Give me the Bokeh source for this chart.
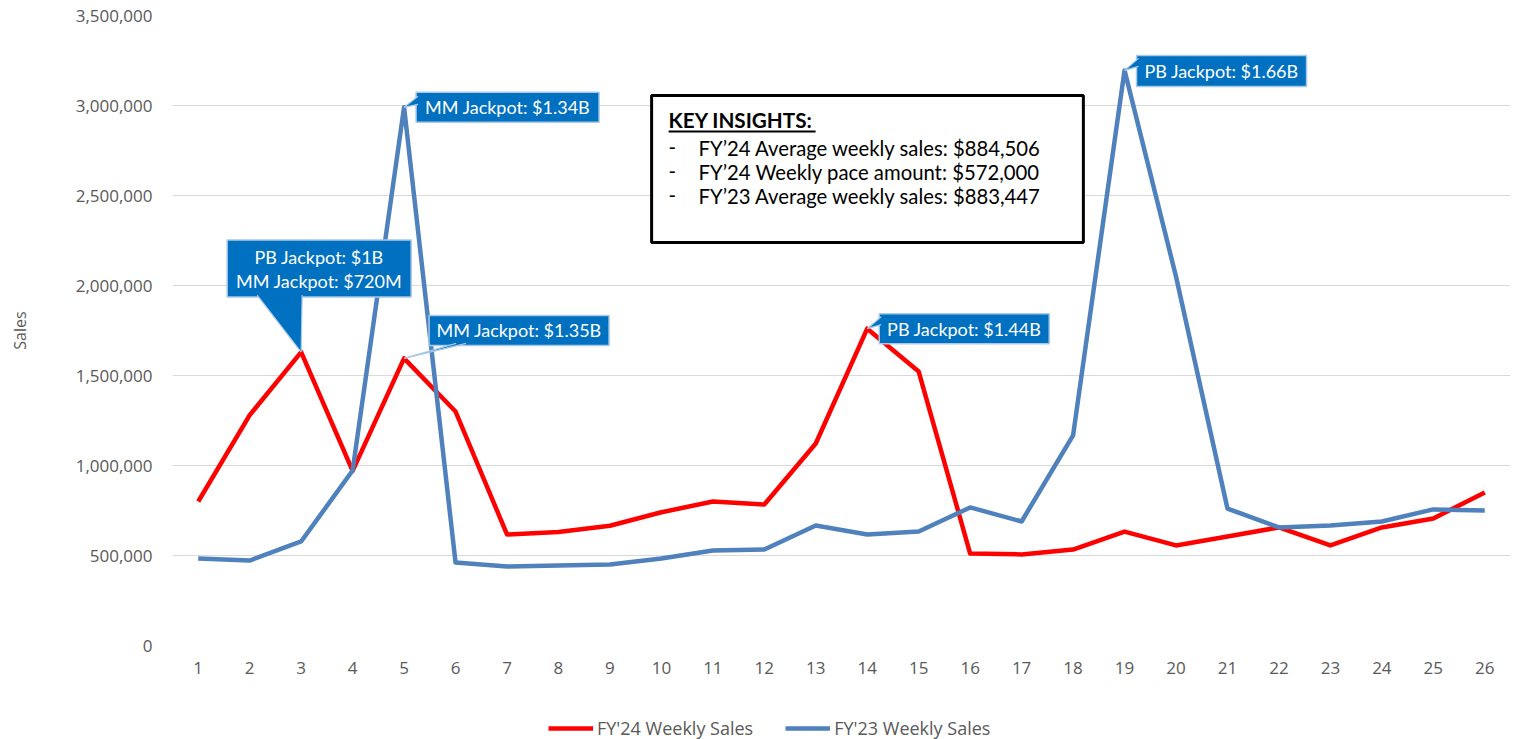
from bokeh.plotting import figure
from bokeh.layouts import column
from bokeh.models import (Range1d, FixedTicker, NumeralTickFormatter, Label, Legend, LegendItem)
from bokeh.embed import file_html
from bokeh.resources import INLINE

weeks = list(range(1, 27))
fy24_sales = [800000, 1280000, 1630000, 970000, 1595000, 1300000, 617000, 630000, 665000, 740000,
              800000, 783000, 1122000, 1760000, 1522000, 511000, 506000, 533000, 633000, 556000,
              606000, 656000, 556000, 656000, 706000, 850000]
fy23_sales = [483000, 472000, 578000, 972000, 2990000, 461000, 439000, 444000, 450000, 483000,
              528000, 533000, 667000, 617000, 633000, 767000, 689000, 1167000, 3195000, 2050000,
              761000, 656000, 667000, 689000, 756000, 750000]
y_ticks = [0, 500000, 1000000, 1500000, 2000000, 2500000, 3000000, 3500000]
series_names = ["FY'24 Weekly Sales", "FY'23 Weekly Sales"]
insight_lines = ["FY\u201924 Average weekly sales: $884,506",
                 "FY\u201924 Weekly pace amount: $572,000",
                 "FY\u201923 Average weekly sales: $883,447"]

X0, X1, Y0, Y1 = 0.5, 26.5, 0, 3500000
FW, FH = 1338, 630
SX = FW / (X1 - X0)
SY = FH / (Y1 - Y0)

FONT = "Open Sans"
CFONT = "Lato"
GREY = "#595959"
RED = "#FF0000"
BLUE = "#4F81BD"
CALL = "#0070C0"
CALL_LINE = "#A9C9E8"

p = figure(frame_width=FW, frame_height=FH, x_range=Range1d(X0, X1), y_range=Range1d(Y0, Y1),
           output_backend="svg", toolbar_location=None,
           min_border_left=172, min_border_right=26, min_border_top=15, min_border_bottom=45)
p.outline_line_color = None
p.background_fill_color = "white"

p.xaxis.ticker = FixedTicker(ticks=weeks)
p.yaxis.ticker = FixedTicker(ticks=y_ticks)
p.yaxis.formatter = NumeralTickFormatter(format="0,0")
for ax in (p.xaxis, p.yaxis):
    ax.axis_line_color = None
    ax.major_tick_line_color = None
    ax.minor_tick_line_color = None
    ax.major_tick_out = 0
    ax.major_label_text_font = FONT
    ax.major_label_text_font_size = "17px"
    ax.major_label_text_color = GREY
p.xaxis.major_label_standoff = 16
p.yaxis.major_label_standoff = 20
p.yaxis.axis_label = "Sales"
p.yaxis.axis_label_text_font = FONT
p.yaxis.axis_label_text_font_size = "16px"
p.yaxis.axis_label_text_font_style = "normal"
p.yaxis.axis_label_text_color = GREY
p.yaxis.axis_label_standoff = 42
p.xgrid.grid_line_color = None
p.ygrid.grid_line_color = "#D9D9D9"
p.ygrid.grid_line_width = 1

r24 = p.line(weeks, fy24_sales, line_color=RED, line_width=4.5, line_join="round")
r23 = p.line(weeks, fy23_sales, line_color=BLUE, line_width=4.5, line_join="round")

# ---- callouts: anchored at data points, offsets in pixels (down = positive)
def dx(px):
    return px / SX

def dy(px):
    return -px / SY

callouts = [
    # (x, y, box px offsets (l, r, t, b), pointer px pts, lines)
    (weeks[2], fy24_sales[2], (-74, 110, -112, -55), [(-44, -57), (1, -57), (0, 0)],
     ["PB Jackpot: $1B", "MM Jackpot: $720M"]),
    (weeks[4], fy23_sales[4], (12, 195, -15, 15), [(14, -11), (14, -3), (0, 0)],
     ["MM Jackpot: $1.34B"]),
    (weeks[4], fy24_sales[4], (25, 205, -43, -13), [(52, -15), (62, -15), (0, 0)],
     ["MM Jackpot: $1.35B"]),
    (weeks[13], fy24_sales[13], (12, 182, -15, 15), [(14, -12), (14, -4), (0, 0)],
     ["PB Jackpot: $1.44B"]),
    (weeks[18], fy23_sales[18], (12, 182, -15, 16), [(14, -12), (14, -4), (0, 0)],
     ["PB Jackpot: $1.66B"]),
]

for (ax_, ay_, (l, r, t, b), ptr, lines) in callouts:
    p.quad(left=[ax_ + dx(l)], right=[ax_ + dx(r)], top=[ay_ + dy(t)], bottom=[ay_ + dy(b)],
           fill_color=CALL, line_color=CALL_LINE, line_width=1.5)
    xs = [ax_ + dx(px) for px, _ in ptr]
    ys = [ay_ + dy(py) for _, py in ptr]
    p.patch(xs, ys, fill_color=CALL, line_color=None)
    p.multi_line([[xs[0], xs[2]], [xs[1], xs[2]]], [[ys[0], ys[2]], [ys[1], ys[2]]],
                 line_color=CALL_LINE, line_width=1.2)
    cx = ax_ + dx((l + r) / 2)
    n = len(lines)
    for k, txt in enumerate(lines):
        cy_px = (t + b) / 2 + (k - (n - 1) / 2) * 24
        p.add_layout(Label(x=cx, y=ay_ + dy(cy_px), text=txt, text_align="center",
                           text_baseline="middle", text_color="white", text_font=CFONT,
                           text_font_size="18px"))

# ---- key insights box (positioned in chart space)
bx0, bx1 = 9.81, 18.2
by0, by1 = 2239000, 3055000
p.quad(left=[bx0], right=[bx1], top=[by1], bottom=[by0], fill_color="white",
       line_color="black", line_width=3)
hx = bx0 + dx(17)
hy = by1 + dy(24)
p.add_layout(Label(x=hx, y=hy, text="KEY INSIGHTS:", text_align="left", text_baseline="middle",
                   text_color="black", text_font=CFONT, text_font_size="20.7px",
                   text_font_style="bold"))
p.quad(left=[hx], right=[hx + dx(147)], top=[hy + dy(11)], bottom=[hy + dy(13)],
       fill_color="black", line_color=None)
for k, txt in enumerate(insight_lines):
    ly = by1 + dy(52 + 24 * k)
    p.add_layout(Label(x=hx, y=ly, text="-", text_align="left", text_baseline="middle",
                       text_color="black", text_font=CFONT, text_font_size="20.3px"))
    p.add_layout(Label(x=hx + dx(30), y=ly, text=txt, text_align="left", text_baseline="middle",
                       text_color="black", text_font=CFONT, text_font_size="20.3px"))

# ---- legend strip under the chart (proxy lines drawn outside the strip's visible range)
lg = figure(width=1536, height=49, x_range=Range1d(0, 1), y_range=Range1d(0, 1),
            output_backend="svg", toolbar_location=None,
            min_border_left=0, min_border_right=0, min_border_top=0, min_border_bottom=0)
lg.axis.visible = False
lg.grid.visible = False
lg.outline_line_color = None
k24 = lg.line(x=[-5, -4], y=[-5, -4], line_color=RED, line_width=4.5)
k23 = lg.line(x=[-5, -4], y=[-5, -4], line_color=BLUE, line_width=4.5)
legend = Legend(items=[LegendItem(label=series_names[0], renderers=[k24]),
                       LegendItem(label=series_names[1], renderers=[k23])],
                orientation="horizontal", location=(376, -1), glyph_width=45, glyph_height=18,
                label_standoff=4, spacing=32, padding=0, margin=0,
                border_line_color=None, background_fill_alpha=0,
                label_text_font=FONT, label_text_font_size="18px", label_text_color=GREY)
lg.add_layout(legend, "center")

layout = column(p, lg, spacing=0)
open("out.html", "w").write(file_html(layout, INLINE))
